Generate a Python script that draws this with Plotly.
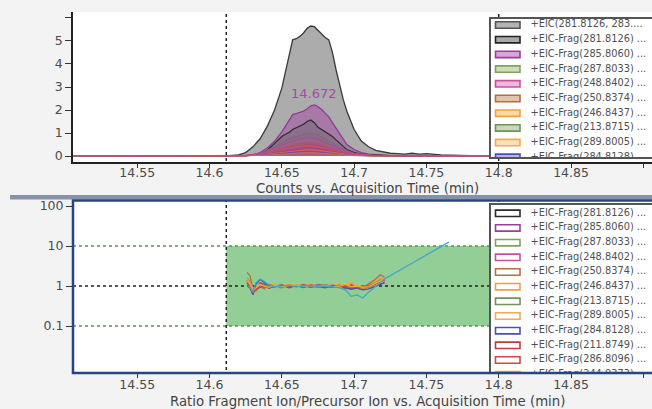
import plotly.graph_objects as go

# ---------------- data ----------------
T = [14.505, 14.612, 14.620, 14.625, 14.630, 14.635, 14.640, 14.645, 14.650, 14.6525,
     14.655, 14.6575, 14.660, 14.6625, 14.665, 14.6675, 14.670, 14.6725, 14.675, 14.6775,
     14.680, 14.6825, 14.685, 14.6875, 14.690, 14.6925, 14.695, 14.700, 14.705, 14.710,
     14.715, 14.720, 14.725, 14.730, 14.735, 14.740, 14.745, 14.750, 14.760, 14.780, 14.800]
eic_precursor = [0, 0, 0.05, 0.15, 0.40, 0.75, 1.30, 2.00, 2.95, 3.60,
                 4.35, 5.05, 5.10, 5.20, 5.35, 5.55, 5.65, 5.62, 5.45, 5.30,
                 5.15, 5.05, 4.50, 3.75, 3.10, 2.45, 1.95, 1.15, 0.65, 0.40,
                 0.25, 0.18, 0.12, 0.10, 0.08, 0.12, 0.08, 0.10, 0.05, 0.02, 0]
frag_285 = [0, 0, 0, 0.02, 0.06, 0.15, 0.35, 0.65, 1.05, 1.30,
            1.60, 1.80, 1.85, 1.90, 1.95, 2.05, 2.18, 2.22, 2.15, 2.02,
            1.85, 1.70, 1.45, 1.20, 0.95, 0.70, 0.50, 0.28, 0.15, 0.08,
            0.05, 0.03, 0.02, 0.02, 0.01, 0.02, 0.01, 0.01, 0, 0, 0]
frag_281 = [0, 0, 0, 0.01, 0.03, 0.08, 0.25, 0.55, 0.85, 0.95,
            1.02, 1.15, 1.22, 1.28, 1.38, 1.50, 1.57, 1.45, 1.25, 1.15,
            1.05, 0.95, 0.85, 0.70, 0.55, 0.40, 0.28, 0.15, 0.08, 0.05,
            0.03, 0.02, 0.02, 0.01, 0.01, 0.01, 0.01, 0.01, 0, 0, 0]

T2 = [14.505, 14.612, 14.625, 14.635, 14.645, 14.655, 14.662, 14.668, 14.675, 14.683,
      14.690, 14.700, 14.712, 14.730, 14.800]
frag_287 = [0, 0, 0.02, 0.12, 0.40, 0.75, 0.90, 1.00, 0.92, 0.65, 0.38, 0.12, 0.03, 0.01, 0]
frag_248 = [0, 0, 0.02, 0.10, 0.32, 0.60, 0.74, 0.80, 0.72, 0.50, 0.30, 0.10, 0.03, 0.01, 0]
frag_250 = [0, 0, 0.01, 0.08, 0.24, 0.45, 0.55, 0.60, 0.54, 0.38, 0.22, 0.07, 0.02, 0.01, 0]
frag_246 = [0, 0, 0.01, 0.06, 0.18, 0.34, 0.42, 0.45, 0.40, 0.28, 0.16, 0.05, 0.02, 0, 0]
frag_213 = [0, 0, 0.01, 0.05, 0.14, 0.27, 0.33, 0.36, 0.32, 0.22, 0.13, 0.04, 0.01, 0, 0]
frag_289 = [0, 0, 0.01, 0.04, 0.11, 0.21, 0.26, 0.28, 0.25, 0.17, 0.10, 0.03, 0.01, 0, 0]
frag_284 = [0, 0, 0, 0.03, 0.08, 0.15, 0.19, 0.20, 0.18, 0.12, 0.07, 0.02, 0.01, 0, 0]
frag_211 = [0, 0, 0.01, 0.07, 0.20, 0.38, 0.46, 0.50, 0.45, 0.32, 0.18, 0.06, 0.02, 0, 0]
frag_286 = [0, 0, 0.01, 0.05, 0.15, 0.28, 0.35, 0.38, 0.34, 0.24, 0.14, 0.04, 0.01, 0, 0]
frag_244 = [0, 0, 0, 0.02, 0.06, 0.11, 0.14, 0.15, 0.13, 0.09, 0.05, 0.02, 0, 0, 0]

apex_label = "14.672"
apex_time = 14.672

TR = [14.626, 14.628, 14.630, 14.632, 14.635, 14.638, 14.641, 14.645, 14.650, 14.655,
      14.660, 14.665, 14.670, 14.675, 14.680, 14.685, 14.690, 14.694, 14.698, 14.702,
      14.706, 14.710, 14.714, 14.718, 14.721]
ratio_281 = [1.2, 1.0, 0.75, 0.9, 1.15, 1.05, 0.95, 1.0, 0.98, 1.02, 1.0, 0.97, 1.03, 1.0, 0.98, 1.01, 1.0, 0.95, 0.92, 0.97, 0.93, 0.96, 1.05, 1.15, 1.25]
ratio_285 = [1.4, 1.1, 0.7, 0.85, 1.2, 1.1, 0.9, 1.05, 0.95, 1.08, 0.97, 1.05, 0.95, 1.1, 1.0, 0.93, 1.06, 0.9, 0.85, 1.0, 0.88, 0.95, 1.1, 1.3, 1.5]
ratio_287 = [1.6, 1.3, 0.8, 0.95, 1.1, 0.95, 1.05, 0.92, 1.05, 0.95, 1.04, 0.94, 1.06, 0.96, 1.05, 1.0, 0.94, 1.08, 0.9, 0.86, 0.95, 1.05, 1.2, 1.45, 1.6]
ratio_248 = [1.3, 0.9, 0.65, 0.8, 1.05, 1.15, 0.9, 0.97, 1.06, 0.92, 1.05, 1.0, 0.92, 1.04, 0.95, 1.07, 0.97, 0.88, 0.95, 0.9, 0.82, 0.9, 1.0, 1.2, 1.35]
ratio_250 = [2.2, 1.8, 0.9, 0.75, 1.0, 0.85, 1.1, 0.95, 0.9, 1.05, 0.95, 1.1, 1.0, 0.92, 1.08, 0.96, 1.02, 0.85, 1.1, 0.95, 0.9, 1.15, 1.4, 1.9, 1.7]
ratio_246 = [1.5, 1.2, 0.85, 0.95, 1.1, 0.9, 1.0, 1.08, 0.93, 1.0, 1.1, 0.95, 1.0, 1.05, 0.92, 1.03, 1.08, 0.95, 1.2, 1.0, 0.85, 1.0, 1.25, 1.6, 1.4]
ratio_213 = [1.1, 1.0, 0.8, 0.9, 1.0, 1.1, 0.95, 1.0, 1.07, 0.96, 1.0, 1.05, 0.97, 1.0, 1.06, 0.95, 1.0, 1.05, 0.9, 0.95, 1.0, 0.9, 1.1, 1.3, 1.45]
ratio_289 = [1.25, 1.05, 0.7, 0.88, 1.05, 0.97, 1.03, 0.9, 1.0, 1.06, 0.93, 1.0, 1.08, 0.95, 1.0, 1.05, 0.9, 1.0, 0.93, 1.05, 0.95, 0.85, 1.0, 1.2, 1.3]
ratio_284 = [1.0, 0.9, 0.6, 1.1, 1.45, 1.2, 1.0, 0.95, 1.02, 0.97, 1.03, 0.98, 1.0, 0.96, 1.02, 0.98, 1.0, 0.9, 0.83, 0.88, 0.8, 0.85, 0.95, 1.1, 1.2]
ratio_211 = [1.3, 1.0, 0.72, 0.82, 0.95, 1.05, 0.88, 0.98, 1.05, 0.9, 1.02, 0.92, 1.06, 0.97, 0.9, 1.04, 0.96, 1.0, 0.92, 0.97, 0.9, 0.98, 1.1, 1.25, 1.4]
ratio_286 = [1.2, 0.95, 0.68, 0.85, 1.0, 0.92, 1.07, 1.0, 0.94, 1.04, 0.96, 1.07, 0.93, 1.02, 0.97, 0.92, 1.05, 0.95, 1.05, 0.9, 0.95, 1.02, 1.15, 1.3, 1.45]
ratio_244 = [1.35, 1.1, 0.78, 0.9, 1.08, 1.0, 0.93, 1.04, 0.97, 1.02, 1.06, 0.96, 1.02, 0.98, 1.04, 0.97, 1.0, 1.1, 0.95, 1.0, 0.92, 0.97, 1.12, 1.35, 1.5]
TRc = [14.626, 14.628, 14.630, 14.632, 14.635, 14.638, 14.641, 14.645, 14.650, 14.655,
       14.660, 14.665, 14.670, 14.675, 14.680, 14.685, 14.690, 14.694, 14.698, 14.702,
       14.706, 14.710, 14.714, 14.718, 14.721, 14.7655]
ratio_cyan = [1.0, 0.95, 0.7, 1.2, 1.5, 1.3, 1.05, 0.97, 1.0, 1.03, 0.97, 1.0, 1.02, 0.98, 1.0, 0.97, 0.9, 0.8, 0.55, 0.6, 0.5, 0.7, 0.9, 1.2, 1.5, 12.5]

marker_time = 14.6116
window_end = 14.8
ratio_low, ratio_ref, ratio_high = 0.1, 1, 10

x_ticks = [14.55, 14.6, 14.65, 14.7, 14.75, 14.8, 14.85, 14.9]
x_tick_text = ["14.55", "14.6", "14.65", "14.7", "14.75", "14.8", "14.85", "14.9"]
y_top_ticks = [0, 1, 2, 3, 4, 5, 6]
y_top_text = ["0", "1", "2", "3", "4", "5", ""]
y_bot_ticks = [0.1, 1, 10, 100]
y_bot_text = ["0.1", "1", "10", "100"]

top_legend_names = ["+EIC(281.8126, 283....", "+EIC-Frag(281.8126) ...", "+EIC-Frag(285.8060) ...",
                    "+EIC-Frag(287.8033) ...", "+EIC-Frag(248.8402) ...", "+EIC-Frag(250.8374) ...",
                    "+EIC-Frag(246.8437) ...", "+EIC-Frag(213.8715) ...", "+EIC-Frag(289.8005) ...",
                    "+EIC-Frag(284.8128) ..."]
bottom_legend_names = ["+EIC-Frag(281.8126) ...", "+EIC-Frag(285.8060) ...", "+EIC-Frag(287.8033) ...",
                       "+EIC-Frag(248.8402) ...", "+EIC-Frag(250.8374) ...", "+EIC-Frag(246.8437) ...",
                       "+EIC-Frag(213.8715) ...", "+EIC-Frag(289.8005) ...", "+EIC-Frag(284.8128) ...",
                       "+EIC-Frag(211.8749) ...", "+EIC-Frag(286.8096) ...", "+EIC-Frag(244.9373) ..."]

# ---------------- styles ----------------
C_BLACK = "#2a2a2a"; C_PURPLE = "#9b3f9b"; C_GREEN = "#7fa35f"; C_PINK = "#c9509f"
C_BROWN = "#b0704a"; C_ORANGE = "#f0a040"; C_GREEN2 = "#6f9457"; C_ORANGE2 = "#f2ab55"
C_BLUE = "#4f4fb0"; C_RED = "#c03c3c"; C_RED2 = "#d04848"; C_YELLOW = "#e6b030"; C_CYAN = "#3ba6c8"

top_swatch_fill = ["#b4b4b4", "#a9a9a9", "#d6a6d6", "#cfdcc0", "#f2b6dc", "#e2c4ae",
                   "#fcd9aa", "#c9d8bb", "#fde0bc", "#b6b6e2"]
top_swatch_line = ["#555555", "#222222", C_PURPLE, C_GREEN, C_PINK, C_BROWN,
                   C_ORANGE, C_GREEN2, C_ORANGE2, C_BLUE]
bottom_swatch_line = [C_BLACK, C_PURPLE, C_GREEN, C_PINK, C_BROWN, C_ORANGE,
                      C_GREEN2, C_ORANGE2, C_BLUE, C_RED, C_RED2, C_YELLOW]

FONT = "DejaVu Sans"
W, H = 652, 409
ML, MR, MT, MB = 73, 0, 12, 36
PW, PH = W - ML - MR, H - MT - MB


def py(p):
    return (H - MB - p) / PH


def px(p):
    return (p - ML) / PW


X_RANGE = [14.5056, 14.906]

fig = go.Figure()

# ----- top panel -----
for xv in (marker_time, window_end):
    fig.add_trace(go.Scatter(x=[xv, xv], y=[-1, 7], mode="lines",
                             line=dict(color="#222", width=1.5, dash="dot"), xaxis="x", yaxis="y"))


def add_peak(xs, ys, line_color, fill_color, width=1.0):
    fig.add_trace(go.Scatter(x=xs, y=ys, mode="lines", fill="tozeroy", fillcolor=fill_color,
                             line=dict(color=line_color, width=width), xaxis="x", yaxis="y"))


add_peak(T, eic_precursor, "#3a3a3a", "rgb(172,172,172)", 1.3)
add_peak(T, frag_285, "#8e3a8e", "rgba(160,70,160,0.50)", 1.2)
add_peak(T, frag_281, "#2a2a2a", "rgba(95,95,95,0.35)", 1.2)
add_peak(T2, frag_287, "#7a6a7a", "rgba(110,110,110,0.30)")
add_peak(T2, frag_211, "#b03a60", "rgba(190,50,110,0.35)")
add_peak(T2, frag_250, "#a05a60", "rgba(170,70,100,0.35)")
add_peak(T2, frag_246, "#c06050", "rgba(200,80,80,0.30)")
add_peak(T2, frag_286, C_RED, "rgba(200,60,60,0.35)")
add_peak(T2, frag_213, "#8a4a70", "rgba(150,60,110,0.30)")
add_peak(T2, frag_289, "#d07050", "rgba(220,110,70,0.30)")
add_peak(T2, frag_284, C_BLUE, "rgba(80,80,180,0.30)")
add_peak(T2, frag_244, "#c08040", "rgba(220,150,60,0.30)")
add_peak(T2, frag_248, "#b8489a", "rgba(200,80,160,0.30)", 1.2)

fig.add_annotation(x=apex_time, y=max(frag_285), xref="x", yref="y", text=apex_label,
                   showarrow=False, yanchor="bottom", yshift=2,
                   font=dict(family=FONT, size=13, color="#9a4fa2"))

# ----- bottom panel -----
fig.add_trace(go.Scatter(x=[marker_time, X_RANGE[1], X_RANGE[1], marker_time, marker_time],
                         y=[ratio_low, ratio_low, ratio_high, ratio_high, ratio_low],
                         mode="lines", fill="toself", fillcolor="rgb(146,206,150)",
                         line=dict(width=0), xaxis="x2", yaxis="y2"))
for lvl in (ratio_low, ratio_high):
    fig.add_trace(go.Scatter(x=X_RANGE, y=[lvl, lvl], mode="lines",
                             line=dict(color="#4f9a4a", width=1.3, dash="dot"), xaxis="x2", yaxis="y2"))
fig.add_trace(go.Scatter(x=X_RANGE, y=[ratio_ref, ratio_ref], mode="lines",
                         line=dict(color="#222", width=1.5, dash="dot"), xaxis="x2", yaxis="y2"))
for xv in (marker_time, window_end):
    fig.add_trace(go.Scatter(x=[xv, xv], y=[0.001, 1000], mode="lines",
                             line=dict(color="#222", width=1.5, dash="dot"), xaxis="x2", yaxis="y2"))

ratio_series = [ratio_281, ratio_285, ratio_287, ratio_248, ratio_250, ratio_246,
                ratio_213, ratio_289, ratio_284, ratio_211, ratio_286, ratio_244]
for ys, col in zip(ratio_series, bottom_swatch_line):
    fig.add_trace(go.Scatter(x=TR, y=ys, mode="lines", line=dict(color=col, width=1.3),
                             xaxis="x2", yaxis="y2"))
fig.add_trace(go.Scatter(x=TRc, y=ratio_cyan, mode="lines", line=dict(color=C_CYAN, width=1.2),
                         xaxis="x2", yaxis="y2"))

# ----- legend boxes (own subplots so their content is clipped) -----
LEG_W = W - 491
TOP_LEG_H = 157 - 19
BOT_LEG_H = 372 - 205
for xa, ya, hgt in (("x3", "y3", TOP_LEG_H), ("x4", "y4", BOT_LEG_H)):
    fig.add_trace(go.Scatter(x=[-5, LEG_W + 10, LEG_W + 10, -5, -5], y=[-5, -5, hgt + 5, hgt + 5, -5],
                             mode="lines", fill="toself", fillcolor="white", line=dict(width=0),
                             xaxis=xa, yaxis=ya))

shapes = []


def legend(names, xa, ya, first, step, fills, lines):
    centers = [first + step * i for i in range(len(names))]
    fig.add_trace(go.Scatter(x=[39.5] * len(names), y=centers, mode="text", text=names,
                             textposition="middle right", cliponaxis=True,
                             textfont=dict(family=FONT, size=9.8, color="#505050"),
                             xaxis=xa, yaxis=ya))
    for c, f, l in zip(centers, fills, lines):
        shapes.append(dict(type="rect", xref=xa, yref=ya, x0=4.5, x1=29, y0=c - 3.2, y1=c + 3.2,
                           fillcolor=f, line=dict(color=l, width=1.6), layer="above"))


legend(top_legend_names, "x3", "y3", 6.0, 14.7, top_swatch_fill, top_swatch_line)
legend(bottom_legend_names, "x4", "y4", 8.3, 14.67, ["white"] * 12, bottom_swatch_line)

shapes.append(dict(type="rect", xref="paper", yref="paper", x0=px(10), x1=1.05, y0=py(199.5), y1=py(195),
                   fillcolor="#8792a6", line=dict(width=0), layer="above"))
shapes.append(dict(type="rect", xref="paper", yref="paper", x0=0, x1=1.05, y0=0, y1=py(200.5),
                   fillcolor="rgba(0,0,0,0)", line=dict(color="#27457f", width=2.5), layer="above"))

tickfont = dict(family=FONT, size=12.5, color="#4a4a4a")
common_x = dict(range=X_RANGE, tickvals=x_ticks, ticktext=x_tick_text, ticks="outside", ticklen=4,
                tickcolor="#333", tickwidth=1.3, showgrid=False, zeroline=False, tickfont=tickfont,
                fixedrange=True)
leg_axis = dict(showgrid=False, zeroline=False, showticklabels=False, ticks="", fixedrange=True)

fig.update_layout(
    width=W, height=H, margin=dict(l=ML, r=MR, t=MT, b=MB, autoexpand=False),
    paper_bgcolor="#f3f3f3", plot_bgcolor="white", showlegend=False,
    xaxis=dict(**common_x, anchor="y", domain=[0, 1], showline=True, linecolor="#222", linewidth=1.5,
               ticklabelstandoff=-6),
    yaxis=dict(anchor="x", domain=[py(162), 1], range=[-0.26, 6.26], tickvals=y_top_ticks,
               ticktext=y_top_text, ticks="outside", ticklen=6, tickcolor="#333", tickwidth=1.3,
               showline=True, linecolor="#222", linewidth=1.5, showgrid=False, zeroline=False,
               tickfont=tickfont, fixedrange=True),
    xaxis2=dict(**common_x, anchor="y2", domain=[0, 1], showline=False, ticklabelstandoff=-4),
    yaxis2=dict(anchor="x2", domain=[0, py(200)], type="log", range=[-2.175, 2.15],
                tickvals=y_bot_ticks, ticktext=y_bot_text, ticks="outside", ticklen=6, tickcolor="#333",
                tickwidth=1.3, showline=False, showgrid=False, zeroline=False, tickfont=tickfont,
                fixedrange=True),
    xaxis3=dict(**leg_axis, anchor="y3", domain=[px(491), 1], range=[0, LEG_W], side="top",
                showline=True, mirror=True, linecolor="#555", linewidth=1.5),
    yaxis3=dict(**leg_axis, anchor="x3", domain=[py(157), py(19)], range=[TOP_LEG_H, 0],
                showline=True, linecolor="#555", linewidth=1.5),
    xaxis4=dict(**leg_axis, anchor="y4", domain=[px(491), 1], range=[0, LEG_W], side="top",
                showline=True, mirror=True, linecolor="#555", linewidth=1.5),
    yaxis4=dict(**leg_axis, anchor="x4", domain=[py(372), py(205)], range=[BOT_LEG_H, 0],
                showline=True, linecolor="#555", linewidth=1.5),
    shapes=shapes,
)

title_font = dict(family=FONT, size=13.3, color="#444")
fig.add_annotation(text="Counts vs. Acquisition Time (min)", xref="paper", yref="paper",
                   x=px(367), y=py(188), yanchor="middle", showarrow=False, font=title_font)
fig.add_annotation(text="Ratio Fragment Ion/Precursor Ion vs. Acquisition Time (min)", xref="paper",
                   yref="paper", x=px(367.5), y=py(401.5), yanchor="middle", showarrow=False, font=title_font)

fig.write_html("out.html", config={"displayModeBar": False},
               post_script="document.body.style.margin='0px';document.body.style.overflow='hidden';")
